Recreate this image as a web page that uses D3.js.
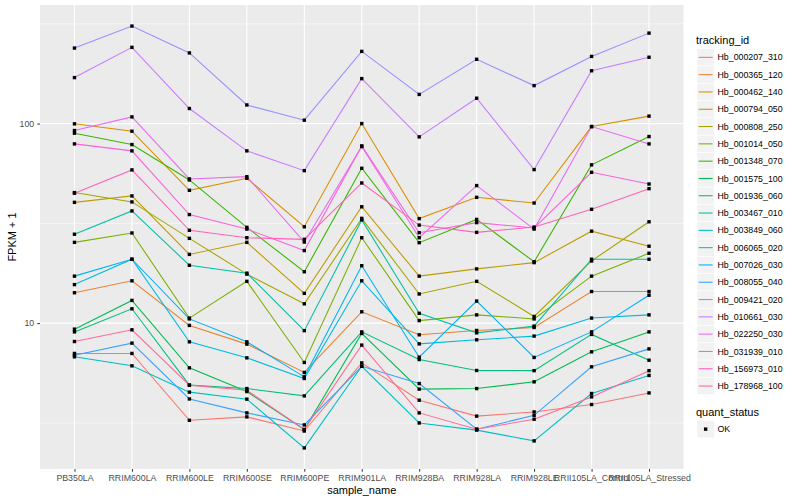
<!DOCTYPE html>
<html>
<head>
<meta charset="utf-8">
<script src="https://cdn.jsdelivr.net/npm/d3@7"></script>
<style>
  body { margin: 0; background: #fff; }
  text { font-family: "Liberation Sans", Arial, sans-serif; }
</style>
</head>
<body>
<svg id="svg1"></svg>
<script>
const width = 800;
const height = 500;

const samples = ["PB350LA", "RRIM600LA", "RRIM600LE", "RRIM600SE", "RRIM600PE", "RRIM901LA",
  "RRIM928BA", "RRIM928LA", "RRIM928LE", "RRII105LA_Control", "RRII105LA_Stressed"];

const trackingIds = ["Hb_000207_310", "Hb_000365_120", "Hb_000462_140", "Hb_000794_050", "Hb_000808_250",
  "Hb_001014_050", "Hb_001348_070", "Hb_001575_100", "Hb_001936_060", "Hb_003467_010",
  "Hb_003849_060", "Hb_006065_020", "Hb_007026_030", "Hb_008055_040", "Hb_009421_020",
  "Hb_010661_030", "Hb_022250_030", "Hb_031939_010", "Hb_156973_010", "Hb_178968_100"];

// FPKM + 1, one row per tracking_id, one value per sample
const fpkm = [
  [7.05, 7.05, 3.26, 3.39, 2.88, 6.32, 4.11, 3.42, 3.59, 3.91, 4.47],
  [14.2, 16.3, 9.74, 7.85, 5.66, 11.4, 8.74, 9.19, 9.51, 14.4, 14.4],
  [99.7, 91.6, 46.3, 53.2, 30.4, 100, 33.4, 42.7, 40.0, 96.6, 109],
  [40.3, 43.4, 22.1, 25.4, 14.1, 38.3, 17.2, 18.7, 20.1, 28.9, 24.3],
  [45.1, 40.5, 26.6, 17.6, 12.5, 33.5, 14.0, 16.2, 10.8, 20.5, 32.2],
  [25.4, 28.3, 10.6, 16.2, 6.35, 26.8, 10.3, 11.0, 10.5, 17.2, 22.4],
  [89.5, 78.5, 52.2, 30.2, 18.1, 59.7, 25.3, 33.1, 20.3, 62.1, 86.1],
  [9.33, 13.0, 5.97, 4.54, 2.93, 8.88, 4.67, 4.70, 5.08, 7.18, 9.04],
  [9.04, 11.8, 4.89, 4.70, 4.32, 9.04, 6.57, 5.79, 5.78, 8.78, 6.52],
  [27.9, 36.5, 19.5, 17.8, 9.17, 32.9, 11.2, 8.94, 9.66, 20.9, 20.9],
  [6.78, 6.11, 4.51, 4.16, 2.37, 6.08, 3.16, 2.91, 2.57, 4.44, 5.47],
  [15.6, 20.9, 8.06, 6.70, 5.28, 16.3, 7.87, 8.25, 8.61, 10.6, 11.0],
  [17.2, 20.9, 10.5, 8.06, 5.38, 19.4, 6.75, 12.9, 6.73, 9.04, 13.8],
  [6.91, 7.94, 4.17, 3.55, 3.09, 6.08, 4.98, 2.94, 3.45, 6.04, 7.43],
  [239, 308, 226, 124, 104, 230, 140, 210, 155, 217, 284],
  [170, 241, 119, 73.0, 58.1, 168, 85.8, 134, 58.8, 184, 215],
  [92.3, 108, 52.8, 54.2, 25.5, 76.7, 26.8, 48.9, 29.6, 96.6, 79.1],
  [79.1, 73.0, 35.0, 29.6, 23.1, 77.3, 28.4, 31.9, 30.0, 57.0, 49.8],
  [44.8, 58.6, 29.2, 26.8, 26.3, 50.4, 31.0, 28.5, 30.3, 37.2, 47.2],
  [8.09, 9.26, 4.89, 4.61, 2.93, 7.76, 3.55, 2.94, 3.30, 4.27, 5.78]
];

const yTicks = [10, 100];
const yMinor = [Math.pow(10, 0.5), Math.pow(10, 1.5), Math.pow(10, 2.5)];
const quantStatus = ["OK"];

const panel = { left: 40, right: 683.5, top: 5, bottom: 469 };

const svg = d3.select("#svg1")
  .attr("width", width)
  .attr("height", height);

// R's hcl() works in polar CIE-LUV, not CIELAB, so convert by hand
function hclLuv(h, c, l) {
  const Xn = 95.047, Yn = 100, Zn = 108.883;
  const un = 4 * Xn / (Xn + 15 * Yn + 3 * Zn), vn = 9 * Yn / (Xn + 15 * Yn + 3 * Zn);
  const hr = h * Math.PI / 180;
  const u = c * Math.cos(hr), v = c * Math.sin(hr);
  const Y = l > 8 ? Yn * Math.pow((l + 16) / 116, 3) : Yn * l / 903.3;
  const up = u / (13 * l) + un, vp = v / (13 * l) + vn;
  const X = Y * 9 * up / (4 * vp);
  const Z = Y * (12 - 3 * up - 20 * vp) / (4 * vp);
  const x = X / 100, y = Y / 100, z = Z / 100;
  const lin = [
    3.240479 * x - 1.537150 * y - 0.498535 * z,
    -0.969256 * x + 1.875992 * y + 0.041556 * z,
    0.055648 * x - 0.204043 * y + 1.057311 * z
  ];
  const g = lin.map((t) => {
    const s = t <= 0.0031308 ? 12.92 * t : 1.055 * Math.pow(t, 1 / 2.4) - 0.055;
    return Math.round(Math.max(0, Math.min(1, s)) * 255);
  });
  return d3.rgb(g[0], g[1], g[2]).formatHex();
}

const color = d3.scaleOrdinal()
  .domain(trackingIds)
  .range(trackingIds.map((d, i) => hclLuv(15 + 360 / trackingIds.length * i, 100, 65)));

const x = d3.scalePoint()
  .domain(samples)
  .range([panel.left, panel.right])
  .padding(0.6);

// 5% expansion on the log scale, like ggplot
const all = fpkm.flat();
const lo = Math.log10(d3.min(all)), hi = Math.log10(d3.max(all));
const pad = (hi - lo) * 0.05;
const y = d3.scaleLog()
  .domain([Math.pow(10, lo - pad), Math.pow(10, hi + pad)])
  .range([panel.bottom, panel.top]);

svg.append("rect")
  .attr("x", panel.left).attr("y", panel.top)
  .attr("width", panel.right - panel.left).attr("height", panel.bottom - panel.top)
  .attr("fill", "#ebebeb");

const grid = svg.append("g");
grid.selectAll(".minor")
  .data(yMinor)
  .join("line")
  .attr("x1", panel.left).attr("x2", panel.right)
  .attr("y1", (d) => y(d)).attr("y2", (d) => y(d))
  .attr("stroke", "#fff").attr("stroke-width", 0.55);
grid.selectAll(".major")
  .data(yTicks)
  .join("line")
  .attr("x1", panel.left).attr("x2", panel.right)
  .attr("y1", (d) => y(d)).attr("y2", (d) => y(d))
  .attr("stroke", "#fff").attr("stroke-width", 1.1);
grid.selectAll(".vmajor")
  .data(samples)
  .join("line")
  .attr("y1", panel.top).attr("y2", panel.bottom)
  .attr("x1", (d) => x(d)).attr("x2", (d) => x(d))
  .attr("stroke", "#fff").attr("stroke-width", 1.1);

const series = trackingIds.map((id, i) => ({ id: id, values: fpkm[i] }));

const line = d3.line()
  .x((d, i) => x(samples[i]))
  .y((d) => y(d));

svg.append("g")
  .selectAll("path")
  .data(series)
  .join("path")
  .attr("d", (d) => line(d.values))
  .attr("fill", "none")
  .attr("stroke", (d) => color(d.id))
  .attr("stroke-width", 1.07);

const pts = [];
series.forEach((s) => s.values.forEach((v, i) => pts.push({ s: samples[i], v: v })));
svg.append("g")
  .selectAll("rect")
  .data(pts)
  .join("rect")
  .attr("x", (d) => x(d.s) - 1.7)
  .attr("y", (d) => y(d.v) - 1.7)
  .attr("width", 3.4).attr("height", 3.4)
  .attr("fill", "#000");

// axes
const xAxis = svg.append("g")
  .attr("transform", "translate(0," + panel.bottom + ")")
  .call(d3.axisBottom(x).tickSizeOuter(0).tickSizeInner(2.75).tickPadding(3));
const yAxis = svg.append("g")
  .attr("transform", "translate(" + panel.left + ",0)")
  .call(d3.axisLeft(y).tickValues(yTicks).tickFormat(d3.format("d")).tickSizeOuter(0).tickSizeInner(2.75).tickPadding(3));
[xAxis, yAxis].forEach((a) => {
  a.select(".domain").remove();
  a.selectAll(".tick line").attr("stroke", "#333");
  a.selectAll(".tick text").attr("fill", "#4d4d4d").style("font-size", "8.8px").style("font-family", "Liberation Sans, Arial, sans-serif");
});

svg.append("text")
  .attr("x", (panel.left + panel.right) / 2).attr("y", 494)
  .attr("text-anchor", "middle")
  .style("font-size", "11px")
  .text("sample_name");
svg.append("text")
  .attr("transform", "translate(16," + (panel.top + panel.bottom) / 2 + ") rotate(-90)")
  .attr("text-anchor", "middle")
  .style("font-size", "11px")
  .text("FPKM + 1");

// legend: tracking_id
const lg = svg.append("g").attr("transform", "translate(697,0)");
lg.append("text").attr("x", -1).attr("y", 44).style("font-size", "11px").text("tracking_id");
const key = lg.selectAll(".key")
  .data(trackingIds)
  .join("g")
  .attr("transform", (d, i) => "translate(0," + (48.7 + i * 17.3) + ")");
key.append("rect")
  .attr("width", 17.3).attr("height", 17.3)
  .attr("fill", "#f2f2f2").attr("stroke", "#fff").attr("stroke-width", 0.6);
key.append("line")
  .attr("x1", 1.7).attr("x2", 15.6)
  .attr("y1", 8.65).attr("y2", 8.65)
  .attr("stroke", (d) => color(d)).attr("stroke-width", 1.07);
key.append("text")
  .attr("x", 20.5).attr("y", 11.8)
  .style("font-size", "8.8px")
  .text((d) => d);

// legend: quant_status
const lq = svg.append("g").attr("transform", "translate(697,0)");
lq.append("text").attr("x", -1).attr("y", 416).style("font-size", "11px").text("quant_status");
const qk = lq.selectAll(".qk")
  .data(quantStatus)
  .join("g")
  .attr("transform", (d, i) => "translate(0," + (420.5 + i * 17.3) + ")");
qk.append("rect")
  .attr("width", 17.3).attr("height", 17.3)
  .attr("fill", "#f2f2f2").attr("stroke", "#fff").attr("stroke-width", 0.6);
qk.append("rect")
  .attr("x", 6.95).attr("y", 6.95).attr("width", 3.4).attr("height", 3.4)
  .attr("fill", "#000");
qk.append("text")
  .attr("x", 20.5).attr("y", 11.8)
  .style("font-size", "8.8px")
  .text((d) => d);
</script>
</body>
</html>
